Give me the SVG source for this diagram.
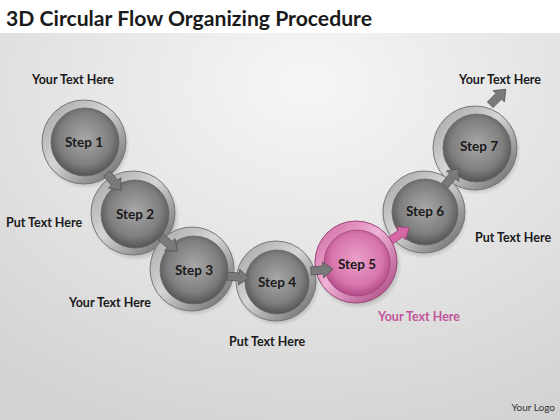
<svg xmlns="http://www.w3.org/2000/svg" width="560" height="420" viewBox="0 0 560 420">
<defs>
<radialGradient id="bg" cx="0.55" cy="0.2" r="0.9">
<stop offset="0" stop-color="#f6f6f6"/>
<stop offset="1" stop-color="#d2d2d2"/>
</radialGradient>
<linearGradient id="ring" x1="0" y1="0" x2="1" y2="1">
<stop offset="0" stop-color="#a0a0a0"/>
<stop offset="0.45" stop-color="#d6d6d6"/>
<stop offset="1" stop-color="#5e5e5e"/>
</linearGradient>
<radialGradient id="ball" cx="0.5" cy="0.45" r="0.55">
<stop offset="0" stop-color="#a8a8a8"/>
<stop offset="0.7" stop-color="#7e7e7e"/>
<stop offset="1" stop-color="#545454"/>
</radialGradient>
<linearGradient id="ringP" x1="0" y1="0" x2="1" y2="1">
<stop offset="0" stop-color="#c9609c"/>
<stop offset="0.45" stop-color="#f0b2d6"/>
<stop offset="1" stop-color="#a23d7a"/>
</linearGradient>
<radialGradient id="ballP" cx="0.5" cy="0.45" r="0.55">
<stop offset="0" stop-color="#eaa0c9"/>
<stop offset="0.7" stop-color="#d775ad"/>
<stop offset="1" stop-color="#b24a88"/>
</radialGradient>
<radialGradient id="shadow" cx="0.5" cy="0.5" r="0.5">
<stop offset="0.7" stop-color="#000" stop-opacity="0.35"/>
<stop offset="1" stop-color="#000" stop-opacity="0"/>
</radialGradient>
<path id="arr" d="M-11,-4 L1,-4 L1,-8 L11,0 L1,8 L1,4 L-11,4 Z"/>
<style>
.t{font-family:Lato,"Liberation Sans",sans-serif;font-weight:bold;fill:#1a1a1a;}
.lab{font-size:12.5px;text-anchor:middle;}
.step{font-size:13.5px;text-anchor:middle;}
.ring{fill:url(#ring);stroke:#777;stroke-width:1;}
.ball{fill:url(#ball);stroke:#666;stroke-width:0.8;}
.arrow{fill:#7a7a7a;stroke:#555;stroke-width:0.8;}
</style>
</defs>
<rect x="0" y="0" width="560" height="420" fill="url(#bg)"/>
<rect x="0" y="0" width="560" height="33" fill="#ffffff"/>
<text x="6" y="26" class="t" font-size="21" textLength="366" lengthAdjust="spacingAndGlyphs">3D Circular Flow Organizing Procedure</text>

<g id="step7"><circle cx="477" cy="151" r="44" fill="url(#shadow)"/><circle cx="475" cy="148" r="42" class="ring"/><circle cx="477" cy="148" r="34" class="ball"/><text x="479" y="151" class="t step">Step 7</text></g>
<g id="step6"><circle cx="424" cy="215" r="44" fill="url(#shadow)"/><circle cx="424" cy="212" r="41" class="ring"/><circle cx="425" cy="212" r="33" class="ball"/><text x="425" y="216" class="t step">Step 6</text></g>
<g id="step1"><circle cx="86" cy="145" r="44" fill="url(#shadow)"/><circle cx="84" cy="142" r="42" class="ring"/><circle cx="85" cy="142" r="34" class="ball"/><text x="84" y="147" class="t step">Step 1</text></g>
<g id="step2"><circle cx="136" cy="217" r="44" fill="url(#shadow)"/><circle cx="133" cy="213" r="42" class="ring"/><circle cx="135" cy="214" r="34" class="ball"/><text x="135" y="219" class="t step">Step 2</text></g>
<g id="step3"><circle cx="194" cy="272" r="44" fill="url(#shadow)"/><circle cx="192" cy="269" r="42" class="ring"/><circle cx="194" cy="270" r="34" class="ball"/><text x="194" y="275" class="t step">Step 3</text></g>
<g id="step4"><circle cx="278" cy="284" r="42" fill="url(#shadow)"/><circle cx="276" cy="281" r="40" class="ring"/><circle cx="277" cy="282" r="32" class="ball"/><text x="277" y="287" class="t step">Step 4</text></g>
<g id="step5"><circle cx="358" cy="265" r="44" fill="url(#shadow)"/><circle cx="356" cy="262" r="41" fill="url(#ringP)" stroke="#a04478"/><circle cx="357" cy="263" r="33" fill="url(#ballP)" stroke="#a04478" stroke-width="0.8"/><text x="357" y="269" class="t step">Step 5</text></g>

<g id="connectors">
<use href="#arr" class="arrow" transform="translate(114,182) rotate(50)"/>
<use href="#arr" class="arrow" transform="translate(169,244) rotate(40)"/>
<use href="#arr" class="arrow" transform="translate(238,277) rotate(5)"/>
<use href="#arr" class="arrow" transform="translate(322,270) rotate(-5)"/>
<use href="#arr" fill="#d668a8" stroke="#a04478" stroke-width="0.8" transform="translate(400,234) rotate(-35)"/>
<use href="#arr" class="arrow" transform="translate(452,177) rotate(-50)"/>
<use href="#arr" class="arrow" transform="translate(498,97) rotate(-45)"/>
</g>

<text x="73" y="84" class="t lab">Your Text Here</text>
<text x="6" y="227" class="t" font-size="12.5">Put Text Here</text>
<text x="110" y="307" class="t lab">Your Text Here</text>
<text x="267" y="346" class="t lab">Put Text Here</text>
<text x="419" y="321" class="t lab" style="fill:#c2559a">Your Text Here</text>
<text x="513" y="242" class="t lab">Put Text Here</text>
<text x="500" y="84" class="t lab">Your Text Here</text>
<text x="555" y="411" font-family="Lato,'Liberation Sans',sans-serif" font-size="10" fill="#333" text-anchor="end">Your Logo</text>
</svg>
